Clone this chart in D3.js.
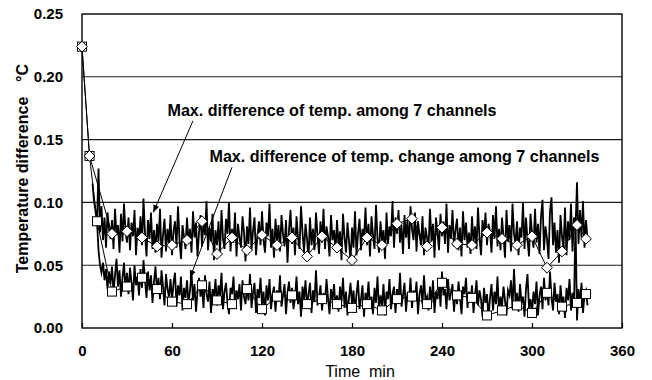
<!DOCTYPE html>
<html>
<head>
<meta charset="utf-8">
<script src="https://cdn.jsdelivr.net/npm/d3@7"></script>
<style>
  body { margin: 0; background: #fff; }
  svg { display: block; font-family: "Liberation Sans", Arial, sans-serif; }
</style>
</head>
<body>
<div id="chart"></div>
<script>
const width = 652;
const height = 380;
const margin = { top: 14, right: 30, bottom: 52, left: 82 };

// Axis ticks
const xTickValues = [0, 60, 120, 180, 240, 300, 360];
const yTickValues = [0.00, 0.05, 0.10, 0.15, 0.20, 0.25];

// Marker series, one point every 10 min (min, °C)
const diamondTimes = [0, 5, 20, 30, 40, 50, 60, 70, 80, 90, 100, 110, 120, 130, 140, 150, 160, 170, 180, 190,
    200, 210, 220, 230, 240, 250, 260, 270, 280, 290, 300, 310, 320, 330, 336];
const diamondValues = [0.224, 0.137, 0.075, 0.077, 0.072, 0.065, 0.066, 0.070, 0.085, 0.059, 0.072, 0.062, 0.074,
    0.066, 0.072, 0.057, 0.073, 0.064, 0.054, 0.072, 0.066, 0.083, 0.087, 0.065, 0.080, 0.067, 0.066, 0.076,
    0.071, 0.066, 0.073, 0.048, 0.061, 0.082, 0.071];

const squareTimes = [0, 5, 10, 20, 30, 40, 50, 60, 70, 80, 90, 100, 110, 120, 130, 140, 150, 160, 170, 180, 190,
    200, 210, 220, 230, 240, 250, 260, 270, 280, 290, 300, 310, 320, 330, 336];
const squareValues = [0.224, 0.137, 0.085, 0.029, 0.033, 0.040, 0.031, 0.021, 0.019, 0.034, 0.022, 0.019, 0.031,
    0.015, 0.025, 0.026, 0.019, 0.023, 0.019, 0.016, 0.019, 0.014, 0.023, 0.025, 0.019, 0.036, 0.026, 0.024,
    0.010, 0.014, 0.018, 0.012, 0.028, 0.017, 0.020, 0.027];

// Dense records, one value per minute
const tempStart = 7;   // max. difference of temp.
const tempValues = [0.115, 0.101, 0.093,
    0.084, 0.127, 0.076, 0.097, 0.070, 0.088, 0.064, 0.092, 0.079, 0.071,
    0.086, 0.063, 0.095, 0.074, 0.082, 0.060, 0.091, 0.069, 0.099, 0.077,
    0.068, 0.088, 0.062, 0.084, 0.073, 0.094, 0.058, 0.080, 0.070, 0.089,
    0.066, 0.103, 0.075, 0.057, 0.086, 0.071, 0.092, 0.063, 0.078, 0.060,
    0.083, 0.069, 0.095, 0.056, 0.074, 0.087, 0.061, 0.079, 0.067, 0.090,
    0.058, 0.077, 0.085, 0.064, 0.097, 0.070, 0.055, 0.082, 0.073, 0.063,
    0.088, 0.067, 0.079, 0.060, 0.093, 0.072, 0.084, 0.057, 0.076, 0.090,
    0.065, 0.086, 0.074, 0.101, 0.062, 0.080, 0.069, 0.091, 0.054, 0.078,
    0.066, 0.085, 0.059, 0.094, 0.071, 0.063, 0.087, 0.075, 0.100, 0.061,
    0.079, 0.068, 0.092, 0.057, 0.083, 0.072, 0.064, 0.089, 0.076, 0.053,
    0.081, 0.067, 0.096, 0.062, 0.077, 0.088, 0.058, 0.074, 0.085, 0.066,
    0.093, 0.070, 0.060, 0.084, 0.073, 0.099, 0.064, 0.079, 0.056, 0.087,
    0.069, 0.082, 0.061, 0.090, 0.075, 0.065, 0.086, 0.052, 0.078, 0.094,
    0.067, 0.080, 0.058, 0.089, 0.072, 0.063, 0.097, 0.076, 0.060, 0.083,
    0.071, 0.055, 0.088, 0.066, 0.079, 0.062, 0.092, 0.074, 0.059, 0.085,
    0.068, 0.095, 0.063, 0.081, 0.073, 0.057, 0.090, 0.070, 0.078, 0.061,
    0.086, 0.065, 0.077, 0.054, 0.091, 0.072, 0.060, 0.084, 0.069, 0.052,
    0.080, 0.064, 0.093, 0.058, 0.075, 0.087, 0.062, 0.079, 0.070, 0.096,
    0.066, 0.083, 0.057, 0.089, 0.074, 0.063, 0.098, 0.071, 0.060, 0.085,
    0.069, 0.078, 0.055, 0.092, 0.067, 0.081, 0.073, 0.101, 0.064, 0.088,
    0.075, 0.094, 0.068, 0.082, 0.059, 0.090, 0.072, 0.086, 0.063, 0.097,
    0.079, 0.070, 0.092, 0.061, 0.085, 0.074, 0.066, 0.089, 0.058, 0.080,
    0.072, 0.064, 0.095, 0.069, 0.083, 0.056, 0.088, 0.076, 0.062, 0.091,
    0.073, 0.085, 0.067, 0.099, 0.060, 0.082, 0.071, 0.094, 0.065, 0.078,
    0.087, 0.062, 0.080, 0.057, 0.093, 0.070, 0.084, 0.064, 0.076, 0.059,
    0.089, 0.068, 0.081, 0.063, 0.096, 0.072, 0.058, 0.086, 0.074, 0.092,
    0.066, 0.083, 0.077, 0.060, 0.090, 0.071, 0.097, 0.065, 0.079, 0.062,
    0.088, 0.073, 0.056, 0.094, 0.069, 0.082, 0.061, 0.099, 0.075, 0.067,
    0.085, 0.058, 0.080, 0.072, 0.100, 0.063, 0.088, 0.070, 0.057, 0.091,
    0.076, 0.064, 0.095, 0.068, 0.083, 0.059, 0.089, 0.102, 0.062, 0.081,
    0.071, 0.055, 0.093, 0.104, 0.066, 0.084, 0.060, 0.078, 0.052, 0.090,
    0.073, 0.063, 0.096, 0.058, 0.085, 0.070, 0.099, 0.061, 0.088, 0.079,
    0.116, 0.067, 0.094, 0.072, 0.101, 0.064, 0.086, 0.071];

const changeStart = 10;   // max. difference of temp. change
const changeValues = [0.085, 0.062, 0.050, 0.044, 0.052, 0.038, 0.047, 0.031, 0.045, 0.035,
    0.049, 0.028, 0.042, 0.055, 0.033, 0.046, 0.025, 0.040, 0.052, 0.030,
    0.044, 0.027, 0.048, 0.036, 0.022, 0.050, 0.034, 0.041, 0.026, 0.047,
    0.032, 0.054, 0.038, 0.024, 0.045, 0.030, 0.042, 0.020, 0.037, 0.049,
    0.028, 0.040, 0.023, 0.046, 0.033, 0.018, 0.043, 0.031, 0.025, 0.039,
    0.021, 0.036, 0.044, 0.017, 0.034, 0.026, 0.041, 0.014, 0.032, 0.024,
    0.038, 0.019, 0.030, 0.045, 0.022, 0.035, 0.013, 0.029, 0.040, 0.025,
    0.033, 0.016, 0.042, 0.027, 0.021, 0.037, 0.012, 0.031, 0.024, 0.039,
    0.018, 0.034, 0.026, 0.044, 0.015, 0.029, 0.036, 0.020, 0.011, 0.032,
    0.027, 0.041, 0.017, 0.030, 0.023, 0.035, 0.014, 0.038, 0.025, 0.019,
    0.033, 0.022, 0.043, 0.016, 0.028, 0.036, 0.012, 0.031, 0.024, 0.040,
    0.018, 0.029, 0.010, 0.034, 0.022, 0.039, 0.015, 0.027, 0.033, 0.013,
    0.030, 0.021, 0.042, 0.017, 0.026, 0.035, 0.011, 0.028, 0.037, 0.020,
    0.032, 0.015, 0.024, 0.041, 0.019, 0.029, 0.009, 0.033, 0.023, 0.038,
    0.016, 0.027, 0.036, 0.012, 0.030, 0.021, 0.046, 0.018, 0.025, 0.034,
    0.014, 0.028, 0.020, 0.039, 0.024, 0.011, 0.031, 0.022, 0.035, 0.017,
    0.026, 0.013, 0.033, 0.021, 0.040, 0.016, 0.029, 0.010, 0.024, 0.036,
    0.019, 0.030, 0.012, 0.027, 0.038, 0.015, 0.023, 0.034, 0.009, 0.028,
    0.021, 0.037, 0.016, 0.025, 0.011, 0.032, 0.020, 0.041, 0.014, 0.026,
    0.018, 0.035, 0.010, 0.029, 0.023, 0.039, 0.015, 0.027, 0.033, 0.012,
    0.031, 0.020, 0.044, 0.017, 0.026, 0.036, 0.013, 0.028, 0.022, 0.040,
    0.016, 0.030, 0.024, 0.037, 0.011, 0.027, 0.034, 0.019, 0.042, 0.021,
    0.025, 0.014, 0.033, 0.020, 0.038, 0.012, 0.029, 0.023, 0.036, 0.017,
    0.045, 0.026, 0.031, 0.015, 0.039, 0.022, 0.028, 0.035, 0.013, 0.030,
    0.019, 0.037, 0.024, 0.011, 0.033, 0.027, 0.040, 0.016, 0.029, 0.021,
    0.034, 0.012, 0.026, 0.038, 0.018, 0.030, 0.023, 0.009, 0.032, 0.020,
    0.027, 0.008, 0.024, 0.035, 0.014, 0.029, 0.019, 0.041, 0.011, 0.025,
    0.017, 0.033, 0.022, 0.010, 0.030, 0.026, 0.038, 0.015, 0.047, 0.021,
    0.028, 0.013, 0.035, 0.020, 0.025, 0.009, 0.031, 0.043, 0.016, 0.023,
    0.012, 0.029, 0.019, 0.037, 0.010, 0.026, 0.033, 0.015, 0.040, 0.022,
    0.030, 0.018, 0.045, 0.024, 0.014, 0.036, 0.021, 0.027, 0.011, 0.034,
    0.019, 0.025, 0.008, 0.032, 0.022, 0.039, 0.014, 0.028, 0.017, 0.088,
    0.006, 0.031, 0.020, 0.036, 0.012, 0.027, 0.030, 0.018];

// Annotation anchors in data units (min, °C)
const labels = [
    { text: "Max. difference of temp. among 7 channels", t: 57, v: 0.169, len: 329,
      from: [74, 0.165], to: [47.5, 0.092] },
    { text: "Max. difference of temp. change among 7 channels", t: 85, v: 0.132, len: 390,
      from: [100, 0.128], to: [72, 0.040] }
];

const svg = d3.select("#chart")
    .append("svg")
    .attr("width", width)
    .attr("height", height);

const x = d3.scaleLinear()
    .domain([0, 360])
    .range([margin.left, width - margin.right]);

const y = d3.scaleLinear()
    .domain([0, 0.25])
    .range([height - margin.bottom, margin.top]);

// arrowhead for the labels
svg.append("defs").append("marker")
    .attr("id", "arrow")
    .attr("viewBox", "0 0 10 8")
    .attr("refX", 10)
    .attr("refY", 4)
    .attr("markerWidth", 8)
    .attr("markerHeight", 6)
    .attr("markerUnits", "userSpaceOnUse")
    .attr("orient", "auto")
    .append("path")
    .attr("d", "M0,0 L10,4 L0,8 Z")
    .attr("fill", "#000");

// horizontal gridlines
svg.append("g")
    .selectAll("line")
    .data(yTickValues.slice(1, -1))
    .enter()
    .append("line")
    .attr("x1", x(0))
    .attr("x2", x(360))
    .attr("y1", d => y(d))
    .attr("y2", d => y(d))
    .attr("stroke", "#1a1a1a")
    .attr("stroke-width", 1.1);

// Y axis labels
const yAxis = svg.append("g")
    .attr("transform", `translate(${x(0)},0)`)
    .call(d3.axisLeft(y).tickValues(yTickValues).tickFormat(d3.format(".2f")).tickSize(0).tickPadding(19));
yAxis.select(".domain").remove();

// X axis, ticks pointing inward
const xAxis = svg.append("g")
    .attr("transform", `translate(0,${y(0)})`)
    .call(d3.axisBottom(x).tickValues(xTickValues).tickFormat(d3.format("d")).tickSize(-5).tickPadding(17));
xAxis.select(".domain").remove();
xAxis.selectAll(".tick line").attr("stroke", "#000").attr("stroke-width", 1.2);

svg.selectAll(".tick text")
    .attr("font-size", 15)
    .attr("font-weight", "bold")
    .attr("fill", "#000");

// plot frame
svg.append("rect")
    .attr("x", x(0))
    .attr("y", y(0.25))
    .attr("width", x(360) - x(0))
    .attr("height", y(0) - y(0.25))
    .attr("fill", "none")
    .attr("stroke", "#000")
    .attr("stroke-width", 1.4);

// dense records
const line = d3.line()
    .x(d => x(d[0]))
    .y(d => y(d[1]));

const tempData = tempValues.map((v, i) => [tempStart + i, v]);
const changeData = changeValues.map((v, i) => [changeStart + i, v]);

[tempData, changeData].forEach(data => {
    svg.append("path")
        .datum(data)
        .attr("d", line)
        .attr("fill", "none")
        .attr("stroke", "#000")
        .attr("stroke-width", 1.8)
        .attr("stroke-linejoin", "miter")
        .attr("stroke-miterlimit", 6);
});

// thin lines through the markers
const squareData = squareTimes.map((t, i) => [t, squareValues[i]]);
const diamondData = diamondTimes.map((t, i) => [t, diamondValues[i]]);

[squareData, diamondData].forEach(data => {
    svg.append("path")
        .datum(data)
        .attr("d", line)
        .attr("fill", "none")
        .attr("stroke", "#000")
        .attr("stroke-width", 1);
});

svg.append("g")
    .selectAll("rect")
    .data(squareData)
    .enter()
    .append("rect")
    .attr("x", d => x(d[0]) - 4.5)
    .attr("y", d => y(d[1]) - 4.5)
    .attr("width", 9)
    .attr("height", 9)
    .attr("fill", "#fff")
    .attr("stroke", "#000")
    .attr("stroke-width", 1);

svg.append("g")
    .selectAll("path")
    .data(diamondData)
    .enter()
    .append("path")
    .attr("d", d3.symbol().type(d3.symbolDiamond2).size(75))
    .attr("transform", d => `translate(${x(d[0])},${y(d[1])})`)
    .attr("fill", "#fff")
    .attr("stroke", "#000")
    .attr("stroke-width", 1);

// annotations with arrows
labels.forEach(d => {
    svg.append("text")
        .attr("x", x(d.t))
        .attr("y", y(d.v))
        .attr("font-size", 16)
        .attr("font-weight", "bold")
        .attr("textLength", d.len)
        .attr("lengthAdjust", "spacingAndGlyphs")
        .text(d.text);

    svg.append("line")
        .attr("x1", x(d.from[0]))
        .attr("y1", y(d.from[1]))
        .attr("x2", x(d.to[0]))
        .attr("y2", y(d.to[1]))
        .attr("stroke", "#000")
        .attr("stroke-width", 1)
        .attr("marker-end", "url(#arrow)");
});

// axis titles
svg.append("text")
    .attr("transform", `translate(28,${(y(0) + y(0.25)) / 2 + 14}) rotate(-90)`)
    .attr("text-anchor", "middle")
    .attr("font-size", 16)
    .attr("font-weight", "bold")
    .text("Temperature difference");

svg.append("text")
    .attr("transform", "translate(28,73) rotate(-90)")
    .attr("text-anchor", "middle")
    .attr("font-size", 16)
    .attr("font-weight", "bold")
    .text("°C");

svg.append("text")
    .attr("x", (x(0) + x(360)) / 2 + 8)
    .attr("y", 377)
    .attr("text-anchor", "middle")
    .attr("font-size", 16)
    .attr("xml:space", "preserve")
    .text("Time  min");
</script>
</body>
</html>
